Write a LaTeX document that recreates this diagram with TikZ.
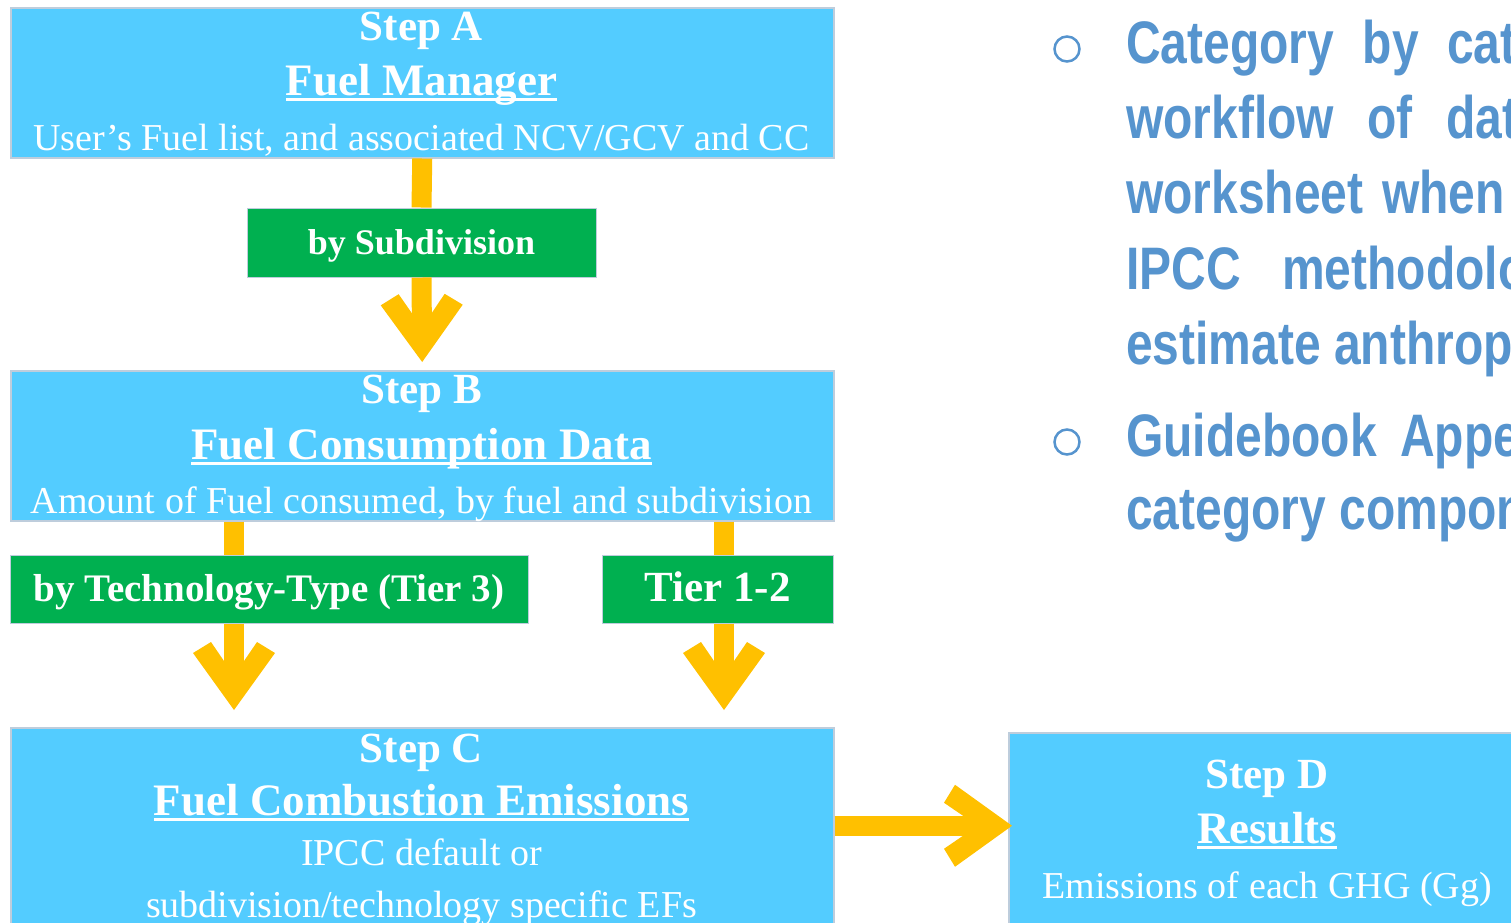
\documentclass[tikz,border=0pt]{standalone}
\usepackage{fontspec}
\setmainfont{Liberation Serif}
\newfontfamily\notesfont[FakeStretch=0.8]{Liberation Sans}
\usepackage{tikz}

\definecolor{stepblue}{RGB}{83,204,255}
\definecolor{tiergreen}{RGB}{0,176,80}
\definecolor{flowgold}{RGB}{255,192,0}
\definecolor{noteblue}{RGB}{86,148,206}
\definecolor{boxedge}{RGB}{190,205,220}

\newcommand\stepul[1]{\setbox0=\hbox{#1}\rlap{\rule[-5.5pt]{\wd0}{2.5pt}}\box0}

\pgfdeclarearrow{
  name = fuelhead,
  setup code = {
    \pgfarrowssettipend{0pt}
    \pgfarrowssetlineend{-47pt}
    \pgfarrowssetvisualbackend{-49pt}
    \pgfarrowssetbackend{-68pt}
    \pgfarrowsupperhullpoint{0pt}{0pt}
    \pgfarrowsupperhullpoint{-57pt}{41pt}
    \pgfarrowsupperhullpoint{-68pt}{23pt}
  },
  drawing code = {
    \pgfpathmoveto{\pgfpointorigin}
    \pgfpathlineto{\pgfqpoint{-57pt}{41pt}}
    \pgfpathlineto{\pgfqpoint{-68pt}{23pt}}
    \pgfpathlineto{\pgfqpoint{-49pt}{10pt}}
    \pgfpathlineto{\pgfqpoint{-49pt}{-10pt}}
    \pgfpathlineto{\pgfqpoint{-68pt}{-23pt}}
    \pgfpathlineto{\pgfqpoint{-57pt}{-41pt}}
    \pgfpathclose
    \pgfusepathqfill
  }
}

\begin{document}
\begin{tikzpicture}[x=1pt,y=-1pt]
\tikzstyle{every node}+=[inner sep=0pt]
\tikzstyle{stepbox}=[draw=boxedge, line width=1.5pt, fill=stepblue, anchor=north west]
\tikzstyle{tierbox}=[draw=boxedge, line width=1pt, fill=tiergreen, text=white, text height=24pt, text depth=0pt]
\tikzstyle{steptext}=[text=white, anchor=base]
\tikzstyle{steptitle}=[steptext, font=\bfseries\fontsize{43}{50}\selectfont]
\tikzstyle{stephead}=[steptext, font=\bfseries\fontsize{45}{52}\selectfont]
\tikzstyle{stepnote}=[steptext, font=\fontsize{38}{46}\selectfont]
\tikzstyle{flow}=[draw=flowgold, line width=20pt]
\tikzstyle{flowhead}=[flow, -fuelhead]
\tikzstyle{noteline}=[text=noteblue, anchor=base west, font=\notesfont\bfseries\fontsize{60}{72}\selectfont]
\tikzstyle{notemark}=[draw=noteblue, line width=2.5pt, circle, minimum size=25pt]
\useasboundingbox (0,0) rectangle (1511,922);

\node[stepbox, minimum width=823pt, minimum height=150pt] (stepA) at (10,7) {};
\node[steptitle] (stepAtitle) at (421.5,40) {Step A};
\node[stephead] (stepAname) at (421.5,95) {\stepul{Fuel Manager}};
\node[stepnote] (stepAnote) at (421.5,150) {User’s Fuel list, and associated NCV/GCV and CC};

\node[tierbox, minimum width=349pt, minimum height=69pt, font=\bfseries\fontsize{36}{40}\selectfont] (subdiv) at (421.5,242.5) {by Subdivision};

\node[stepbox, minimum width=823pt, minimum height=150pt] (stepB) at (10,370) {};
\node[steptitle] (stepBtitle) at (421.5,403) {Step B};
\node[stephead] (stepBname) at (421.5,459) {\stepul{Fuel Consumption Data}};
\node[stepnote] (stepBnote) at (421.5,513) {Amount of Fuel consumed, by fuel and subdivision};

\node[tierbox, minimum width=518pt, minimum height=68pt, font=\bfseries\fontsize{39}{44}\selectfont] (tech) at (269,589) {by Technology-Type (Tier 3)};
\node[tierbox, minimum width=231pt, minimum height=68pt, font=\bfseries\fontsize{43}{48}\selectfont] (tier) at (717.5,589) {Tier 1-2};

\node[stepbox, minimum width=823pt, minimum height=196pt] (stepC) at (10,727) {};
\node[steptitle] (stepCtitle) at (421.5,762) {Step C};
\node[stephead] (stepCname) at (421.5,815) {\stepul{Fuel Combustion Emissions}};
\node[stepnote] (stepCnote) at (421.5,865) {IPCC default or};
\node[stepnote] (stepCnotetwo) at (421.5,917) {subdivision/technology specific EFs};

\node[stepbox, minimum width=518pt, minimum height=200pt] (stepD) at (1008,732) {};
\node[steptitle] (stepDtitle) at (1267,788) {Step D};
\node[stephead] (stepDname) at (1267,843) {\stepul{Results}};
\node[stepnote] (stepDnote) at (1267,898) {Emissions of each GHG (Gg)};

\coordinate (leftline) at (234,0);
\coordinate (rightline) at (724,0);
\draw[flow] (stepA.south) -- (subdiv.north);
\draw[flowhead, shorten >=8pt] (subdiv.south) -- (stepB.north);
\draw[flow] (stepB.south -| leftline) -- (tech.north -| leftline);
\draw[flowhead, shorten >=17pt] (tech.south -| leftline) -- (stepC.north -| leftline);
\draw[flow] (stepB.south -| rightline) -- (tier.north -| rightline);
\draw[flowhead, shorten >=17pt] (tier.south -| rightline) -- (stepC.north -| rightline);
\draw[flowhead, shorten >=-4pt] (stepC.east) -- (stepC.east -| stepD.west);

\node[notemark] (markone) at (1067,49) {};
\node[noteline] (noteone) at (1126,63) {\makebox[321pt][l]{Category\hfill by\hfill\rlap{cat}}};
\node[noteline] (notetwo) at (1126,138) {\makebox[320pt][l]{workflow\hfill of\hfill\rlap{dat}}};
\node[noteline] (notethree) at (1126,213) {\makebox[256pt][l]{worksheet\hfill\rlap{when}}};
\node[noteline] (notefour) at (1126,289) {\makebox[156pt][l]{IPCC\hfill\rlap{methodolo}}};
\node[noteline] (notefive) at (1126,364) {estimate anthrop};
\node[notemark] (marktwo) at (1067,442) {};
\node[noteline] (notesix) at (1126,456) {\makebox[274pt][l]{Guidebook\hfill\rlap{Appe}}};
\node[noteline] (noteseven) at (1126,529) {category compon};
\end{tikzpicture}
\end{document}
